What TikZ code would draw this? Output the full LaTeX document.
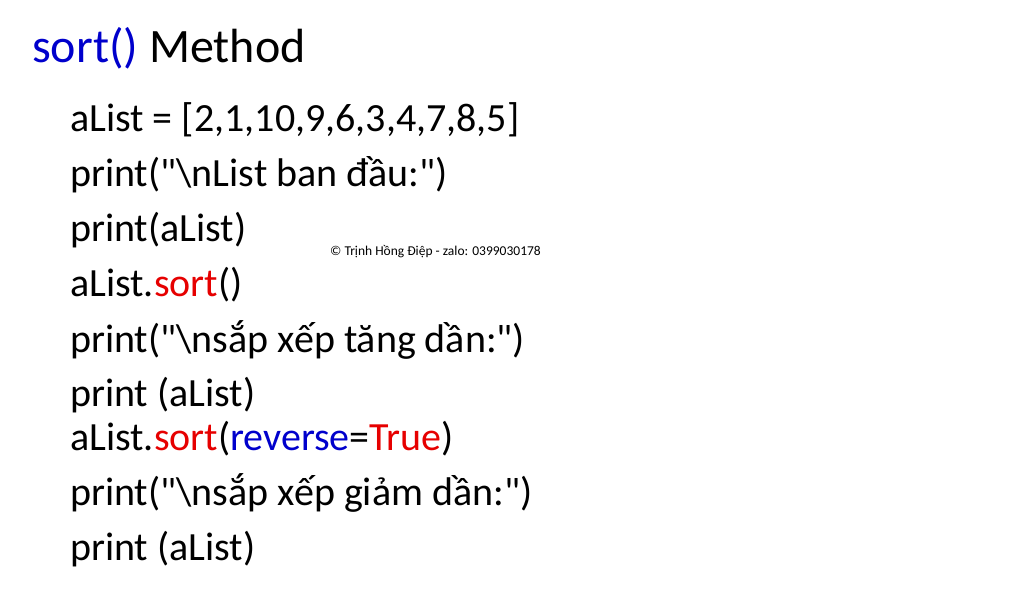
\documentclass[tikz,border=0pt]{standalone}
\usepackage{fontspec}
\setmainfont{Carlito}[Ligatures=TeXOff]
\definecolor{kwblue}{RGB}{0,0,204}
\definecolor{kwred}{RGB}{230,0,0}
\begin{document}
\begin{tikzpicture}[x=1pt,y=-1pt]
  \tikzstyle{every node}+=[inner sep=0pt,anchor=base west]
  \tikzstyle{code}=[font=\fontsize{40}{40}\selectfont]
  \useasboundingbox (0,0) rectangle (1024,593);
  \node (title) at (32,63) {\fontsize{48}{48}\selectfont\textcolor{kwblue}{sort()} Method};
  \node[code] (l1) at (70,132) {aList = [2,1,10,9,6,3,4,7,8,5]};
  \node[code] (l2) at (70,187) {print("\textbackslash nList ban đầu:")};
  \node[code] (l3) at (70,242) {print(aList)};
  \node[code] (l4) at (70,297) {aList.\textcolor{kwred}{sort}()};
  \node[code] (l5) at (70,352) {print("\textbackslash nsắp xếp tăng dần:")};
  \node[code] (l6) at (70,406) {print (aList)};
  \node[code] (l7) at (70,450) {aList.\textcolor{kwred}{sort}(\textcolor{kwblue}{reverse}=\textcolor{kwred}{True})};
  \node[code] (l8) at (70,505) {print("\textbackslash nsắp xếp giảm dần:")};
  \node[code] (l9) at (70,560) {print (aList)};
  \node[font=\fontsize{13.5}{13.5}\selectfont] (mark) at (330,256) {© Trịnh Hồng Điệp - zalo: 0399030178};
\end{tikzpicture}
\end{document}
